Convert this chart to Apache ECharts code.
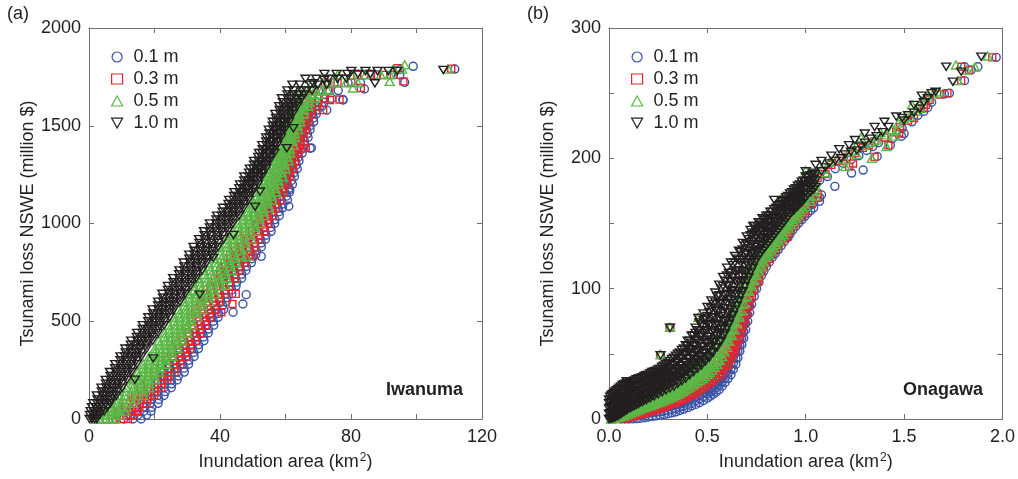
<!DOCTYPE html>
<html><head><meta charset="utf-8">
<script src="https://cdn.jsdelivr.net/npm/echarts@6/dist/echarts.min.js"></script>
<style>html,body{margin:0;padding:0;background:#fff}#c{width:1018px;height:479px}</style>
</head><body><div id="c"></div>
<script>
const seriesNames = ['0.1 m', '0.3 m', '0.5 m', '1.0 m'];
const xTicksA = [0, 40, 80, 120];
const yTicksA = [0, 500, 1000, 1500, 2000];
const xTicksB = [0.0, 0.5, 1.0, 1.5, 2.0];
const yTicksB = [0, 100, 200, 300];

// ---------------- Panel (a) Iwanuma : rows [y, x1, x2, ...] ----------------
const blackA_rows = [
[0,0.2,0.9,1.7,2.4],[20,0.3,1.3,2.2,3.2],[40,0.5,1.6,2.8,3.7,4.6],[60,0.9,2.2,3.3,4.4,5.6],
[80,1.3,2.5,3.9,5.1,6.5],[120,2.4,4.1,5.4,7.1,8.4],[160,3.8,5.3,7.0,8.4,10.1],[200,5.1,6.6,8.3,9.8,11.5],
[240,6.4,8.2,9.7,11.5,13.0],[280,8.0,9.5,11.3,12.8,14.6],[320,9.6,11.0,12.8,14.3,16.0],[360,11.1,12.6,14.4,15.8,17.6],
[400,12.9,14.7,16.1,18.0,19.4],[440,14.7,16.3,18.0,19.4,21.1],[480,16.4,18.2,19.6,21.5,22.9],[520,18.1,19.5,21.3,22.8,24.6],
[560,19.4,21.2,22.6,24.5,25.9],[600,21.1,22.6,24.5,26.0,27.8],[640,22.4,24.4,25.9,27.9,29.4],[680,24.1,25.7,27.6,29.2,31.0],
[720,25.7,27.6,29.2,31.1,32.7],[760,27.6,29.1,31.1,32.6,34.5],[800,28.9,30.9,32.4,34.4,35.9],[840,30.6,32.2,34.1,35.7,37.6],
[880,31.9,34.0,35.7,37.7,39.4],[920,33.6,35.3,37.4,39.0,41.1],[960,35.1,36.8,38.9,40.5,42.4],[1000,36.9,38.9,40.4,42.4,43.9],
[1040,39.1,40.6,42.5,44.0,45.8],[1080,40.9,42.7,44.1,45.8,47.2],[1120,42.8,44.2,45.8,47.1,48.7],[1160,44.4,46.0,47.2,48.7,49.9],
[1200,46.1,47.3,48.9,50.0,51.6],[1240,47.4,48.9,50.1,51.6,52.7],[1280,49.1,50.2,51.6,52.7,54.1],[1320,50.4,51.8,52.8,54.1,55.1],
[1360,51.9,52.9,54.3,55.2,56.6],[1400,52.9,54.2,55.2,56.5,57.4],[1440,54.1,55.0,56.4,57.3,58.6],[1480,54.9,56.3,57.3,58.7,59.7],
[1520,56.1,57.2,58.6,59.7,61.1],[1560,56.9,58.4,59.6,61.1,62.2],[1600,58.1,59.3,60.9,62.0,63.6],[1640,58.9,60.6,61.9,63.6,64.9],
[1680,60.6,62.4,64.9,66.4,68.1],[1710,62.1,64.4,67.6,69.9,72.6],[1740,66.1,69.4,73.1,75.9,78.6],[1765,71.9,75.6,78.9,82.1,85.9],
[1780,80.1,84.4,88.1,91.4,94.1],
[100,2.6,4.0,5.4,6.8],[140,3.9,5.4,7.0,8.5],[180,5.2,6.8,8.4,10.0],[220,6.6,8.2,9.8,11.4],[260,8.0,9.7,11.3,13.0],
[300,9.6,11.2,12.9,14.5],[340,11.2,12.8,14.4,16.0],[380,12.8,14.4,16.1,17.7],[420,14.6,16.2,17.8,19.4],[460,16.4,18.0,19.6,21.2],
[500,18.1,19.7,21.3,22.9],[540,19.6,21.2,22.8,24.4],[580,21.1,22.7,24.4,26.0],[620,22.6,24.3,26.1,27.8],[660,24.1,25.8,27.6,29.3],
[700,25.8,27.5,29.3,31.0],[740,27.5,29.3,31.0,32.7],[780,29.1,30.9,32.6,34.3],[820,30.6,32.4,34.1,35.9],[860,32.2,34.0,35.8,37.6],
[900,33.7,35.6,37.4,39.3],[940,35.3,37.1,39.0,40.8],[980,36.9,38.7,40.5,42.3],[1020,38.9,40.6,42.3,44.0],[1060,40.8,42.4,44.1,45.7],
[1100,42.6,44.1,45.7,47.2],[1140,44.3,45.7,47.2,48.6],[1180,45.9,47.3,48.7,50.1],[1220,47.4,48.8,50.1,51.5],[1260,48.9,50.2,51.5,52.8],
[1300,50.4,51.6,52.8,54.0],[1340,51.7,52.9,54.1,55.3],[1380,53.0,54.1,55.3,56.4],[1420,54.1,55.2,56.3,57.4],[1460,55.1,56.3,57.4,58.6],
[1500,56.1,57.3,58.6,59.8],[1540,57.1,58.4,59.7,61.0],[1580,58.2,59.5,60.9,62.2],[1620,59.2,60.7,62.1,63.6],[1660,60.6,62.3,64.0,65.7]
];
const blackA_extra = [[14.0,201],[19.6,310],[33.8,636],[37.9,824],[44.1,941],[50.7,1086],[52.2,1163],[60.4,1385],[62.4,1487],[87.3,1717],[108.2,1785],[68.5,1717],[71.8,1734]];

const greenA_rows = [
[0,2.1,3.4,5.1,6.4,8.0],[20,3.4,5.1,6.5,8.3,9.7],[40,5.1,6.4,8.1,9.4,11.0],[80,6.4,8.4,9.9,11.9,13.4],
[120,9.1,10.8,12.9,14.5,16.6],[160,11.4,13.4,14.9,16.9,18.4],[200,13.6,15.0,16.9,18.3,20.1],[240,14.9,16.7,18.2,20.0,21.4],
[280,16.6,18.2,20.1,21.7,23.6],[320,18.4,20.4,21.9,23.9,25.4],[360,20.1,21.7,23.6,25.2,27.1],[400,21.4,23.4,24.9,26.9,28.4],
[440,23.1,24.7,26.6,28.2,30.1],[480,24.4,26.4,27.9,29.9,31.4],[520,26.1,27.7,29.6,31.2,33.1],[560,27.4,29.4,31.1,33.1,34.7],
[600,29.1,30.8,32.9,34.5,36.6],[640,30.4,32.6,34.4,36.6,38.4],[680,32.1,33.9,36.1,37.9,40.1],[720,33.4,35.7,37.7,40.0,41.9],
[760,35.1,37.0,39.4,41.3,43.6],[800,36.4,38.7,40.7,43.0,44.9],[840,38.1,40.0,42.4,44.3,46.6],[880,39.9,42.1,43.9,46.1,47.9],
[920,42.1,43.8,45.9,47.5,49.6],[960,43.9,45.9,47.4,49.4,50.9],[1000,45.6,47.1,49.0,50.5,52.4],[1040,46.9,48.7,50.2,52.0,53.4],
[1080,48.6,50.0,51.8,53.1,54.9],[1120,49.9,51.6,52.9,54.6,55.9],[1160,51.1,52.4,54.1,55.4,57.1],[1200,52.4,54.0,55.2,56.7,57.9],
[1240,53.6,54.8,56.4,57.5,59.1],[1280,54.9,56.4,57.4,58.9,59.9],[1320,56.1,57.1,58.5,59.5,60.9],[1360,56.9,58.2,59.2,60.5,61.4],
[1400,58.1,59.0,60.3,61.1,62.4],[1440,58.7,60.0,60.9,62.1,62.9],[1480,59.6,60.5,61.8,62.6,63.9],[1520,60.1,61.4,62.3,63.6,64.5],
[1560,61.1,62.0,63.4,64.3,65.6],[1600,61.9,63.4,64.4,65.9,66.9],[1640,63.1,64.4,66.1,67.4,69.1],[1680,64.9,67.1,68.9,71.1,72.9],
[1720,68.1,71.4,75.1,78.4,82.1],[1760,75.9,80.1,84.4,89.1,91.9],[1790,92.9,95.6],
[60,6.5,8.1,9.8,11.4],[100,8.6,10.4,12.3,14.1],[140,11.1,12.9,14.8,16.6],[180,13.3,15.0,16.7,18.4],[220,15.1,16.7,18.3,19.9],
[260,16.6,18.3,20.0,21.7],[300,18.4,20.1,21.9,23.6],[340,20.1,21.9,23.6,25.4],[380,21.6,23.4,25.1,26.9],[420,23.1,24.9,26.6,28.4],
[460,24.6,26.4,28.1,29.9],[500,26.1,27.9,29.6,31.4],[540,27.6,29.4,31.2,33.0],[580,29.2,31.0,32.9,34.7],[620,30.7,32.7,34.6,36.6],
[660,32.2,34.2,36.3,38.3],[700,33.8,35.8,37.9,39.9],[740,35.3,37.4,39.6,41.7],[780,36.8,38.9,41.1,43.2],[820,38.3,40.4,42.6,44.7],
[860,40.0,42.1,44.2,46.2],[900,42.0,43.9,45.9,47.8],[940,43.9,45.7,47.5,49.3],[980,45.6,47.3,49.1,50.8],[1020,47.1,48.7,50.4,52.1],
[1060,48.6,50.2,51.8,53.4],[1100,50.0,51.6,53.1,54.6],[1140,51.3,52.8,54.3,55.8],[1180,52.5,53.9,55.4,56.8],[1220,53.7,55.1,56.4,57.8],
[1260,54.9,56.2,57.5,58.8],[1300,56.1,57.3,58.6,59.8],[1340,57.1,58.2,59.4,60.6],[1380,58.1,59.2,60.3,61.4],[1420,58.9,60.0,61.1,62.1],
[1460,59.7,60.8,61.8,62.9],[1500,60.4,61.5,62.6,63.7],[1540,61.2,62.3,63.4,64.5],[1580,62.1,63.3,64.5,65.7],[1620,63.2,64.6,65.9,67.3],
[1660,64.9,66.6,68.4,70.1]
];
const greenA_extra = [[13.5,205],[33.0,640],[80.6,1693],[91.8,1727],[96.4,1812],[109.7,1790],[41.6,684],[47.9,831]];

const redA_rows = [
[0,5.1,7.2,9.8,11.9],[20,6.9,9.4,11.4,13.6],[40,9.1,10.9,13.1,14.9],[80,11.4,13.6,15.4,17.6],
[120,14.1,15.9,18.1,19.9],[160,15.9,18.1,19.9,22.1],[200,18.1,19.9,22.1,23.9],[240,19.9,22.1,23.9,26.1],
[280,22.1,23.9,26.1,27.9],[320,23.4,25.6,27.4,29.6],[360,25.1,26.9,29.1,30.9],[400,26.4,28.6,30.4,32.6],
[440,28.1,29.9,32.1,33.9],[480,29.4,31.6,33.4,35.6],[520,31.1,32.9,35.1,36.9],[560,32.4,34.6,36.4,38.6],
[600,34.1,35.9,38.1,39.9],[640,35.4,37.6,39.4,41.6],[680,37.1,38.9,41.1,42.9],[720,38.4,40.6,42.4,44.6],
[760,40.1,41.9,44.1,45.9],[800,41.4,43.6,45.4,47.6],[840,43.1,44.9,47.1,48.9],[880,44.4,46.6,48.4,50.6],
[920,46.1,47.9,50.1,51.9],[960,47.4,49.6,51.4,53.6],[1000,49.1,50.8,53.0,54.7],[1040,50.4,52.4,54.1,56.1],
[1080,52.1,53.6,55.6,57.1],[1120,52.9,54.9,56.5,58.5],[1160,54.6,56.1,57.9,59.4],[1200,55.4,57.3,58.7,60.6],
[1240,56.6,58.0,59.9,61.3],[1280,57.4,59.2,60.5,62.3],[1320,58.6,59.9,61.6,62.9],[1360,59.4,61.0,62.3,63.9],
[1400,60.6,61.8,63.3,64.5],[1440,61.1,62.7,63.9,65.5],[1480,62.1,63.3,64.9,66.1],[1520,62.9,64.4,65.6,67.1],
[1560,64.1,65.2,66.8,67.9],[1600,64.9,66.6,67.9,69.6],[1640,66.1,67.9,70.1,71.9],[1680,68.4,71.1,73.4],
[1720,72.1,75.9,80.1],[1760,81.9,86.1,89.9,93.1],
[60,11.0,13.2,15.4],[100,13.5,15.7,17.9],[140,15.8,18.0,20.2],[180,17.8,20.0,22.2],[220,19.8,22.0,24.2],
[260,21.8,24.0,26.2],[300,23.5,25.7,27.9],[340,25.0,27.2,29.4],[380,26.5,28.7,30.9],[420,28.0,30.2,32.4],
[460,29.5,31.7,33.9],[500,31.0,33.2,35.4],[540,32.5,34.7,36.9],[580,34.0,36.2,38.4],[620,35.5,37.7,39.9],
[660,37.0,39.2,41.4],[700,38.5,40.7,42.9],[740,40.0,42.2,44.4],[780,41.5,43.7,45.9],[820,43.0,45.2,47.4],
[860,44.5,46.7,48.9],[900,46.0,48.2,50.4],[940,47.5,49.7,51.9],[980,49.0,51.2,53.3],[1020,50.5,52.6,54.6],
[1060,52.0,53.9,55.8],[1100,53.2,55.1,57.0],[1140,54.4,56.3,58.2],[1180,55.7,57.5,59.3],[1220,56.7,58.5,60.3],
[1260,57.6,59.4,61.1],[1300,58.6,60.3,61.9],[1340,59.6,61.2,62.8],[1380,60.6,62.1,63.6],[1420,61.4,62.9,64.4],
[1460,62.2,63.7,65.2],[1500,63.1,64.6,66.0],[1540,64.1,65.5,66.9],[1580,65.1,66.6,68.1],[1620,66.2,68.1,70.0]
];
const redA_extra = [[40.4,546],[43.8,588],[44.8,640],[50.0,832],[65.4,1385],[66.2,1387],[71.5,1580],[73.6,1632],[76.5,1634],[83.0,1693],[96.0,1727],[94.4,1795],[110.6,1792]];

const blueA_rows = [
[0,8.1,10.6,13.4,15.9],[20,9.9,12.6,14.9,17.6],[40,12.1,14.2,16.8,18.9],[80,14.4,16.8,18.7,21.1],
[120,17.1,18.9,21.1,22.9],[160,18.9,21.1,22.9,25.1],[200,21.1,22.9,25.1,26.9],[240,22.9,25.1,26.9,29.1],
[280,24.6,26.4,28.6,30.4],[320,25.9,28.1,29.9,32.1],[360,27.6,29.4,31.6,33.4],[400,28.9,31.1,32.9,35.1],
[440,30.6,32.4,34.6,36.4],[480,31.9,34.1,35.9,38.1],[520,33.6,35.4,37.6,39.4],[560,34.9,37.1,38.9,41.1],
[600,36.6,38.2,40.3,41.9],[640,37.9,39.9,41.6,43.6],[680,39.6,41.2,43.3,44.9],[720,40.9,42.9,44.6,46.6],
[760,42.6,44.2,46.3,47.9],[800,43.9,45.9,47.6,49.6],[840,45.6,47.2,49.3,50.9],[880,46.9,48.9,50.6,52.6],
[920,48.6,50.2,52.3,53.9],[960,49.9,51.9,53.6,55.6],[1000,51.6,53.2,55.1,56.7],[1040,52.9,54.8,56.2,58.1],
[1080,54.4,55.8,57.7,59.1],[1120,55.4,57.3,58.7,60.6],[1160,56.6,58.0,59.8,61.2],[1200,57.4,59.1,60.4,62.1],
[1240,58.6,59.9,61.5,62.7],[1280,59.2,60.8,62.0,63.6],[1320,60.3,61.4,63.0,64.1],[1360,60.9,62.4,63.6,65.1],
[1400,62.1,63.2,64.6,65.7],[1440,62.9,64.4,65.4,66.9],[1480,63.9,65.0,66.4,67.5],[1520,64.5,66.0,67.1,68.6],
[1560,65.6,66.7,68.3,69.4],[1600,66.4,68.1,69.4,71.1],[1640,67.9,70.1,71.9,74.1],[1680,70.1,72.9,76.1],
[1720,74.9,79.1,82.9],[1760,84.1,87.9,92.1,94.9],
[60,14.0,16.6,19.2],[100,16.5,18.9,21.3],[140,18.7,21.0,23.3],[180,20.7,23.0,25.3],[220,22.7,25.0,27.3],
[260,24.5,26.8,29.0],[300,26.0,28.3,30.5],[340,27.5,29.8,32.0],[380,29.0,31.3,33.5],[420,30.5,32.8,35.0],
[460,32.0,34.3,36.5],[500,33.5,35.8,38.0],[540,35.0,37.3,39.5],[580,36.5,38.7,40.8],[620,38.0,40.1,42.1],
[660,39.5,41.6,43.6],[700,41.0,43.1,45.1],[740,42.5,44.6,46.6],[780,44.0,46.1,48.1],[820,45.5,47.6,49.6],
[860,47.0,49.1,51.1],[900,48.5,50.6,52.6],[940,50.0,52.1,54.1],[980,51.5,53.5,55.5],[1020,53.0,54.9,56.8],
[1060,54.3,56.2,58.0],[1100,55.6,57.4,59.2],[1140,56.7,58.5,60.3],[1180,57.6,59.4,61.1],[1220,58.6,60.2,61.8],
[1260,59.5,61.0,62.6],[1300,60.3,61.8,63.3],[1340,61.2,62.6,64.0],[1380,62.1,63.5,64.9],[1420,63.1,64.4,65.8],
[1460,64.0,65.3,66.7],[1500,64.8,66.2,67.5],[1540,65.6,67.0,68.5],[1580,66.6,68.1,69.7],[1620,68.0,69.9,71.8]
];
const blueA_extra = [[44.0,546],[47.0,588],[48.0,636],[52.6,832],[61.0,1088],[61.3,1173],[67.5,1385],[67.9,1387],[65.5,1495],[72.6,1580],[77.6,1632],[77.5,1634],[84.1,1688],[96.4,1722],[94.9,1787],[99.0,1804],[111.7,1790]];

// ---------------- Panel (b) Onagawa : columns [x, y1, y2, ...] ----------------
const blackB_cols = [
[0.000,0,4,8,12,15],[0.012,0.5,5,10,15,18],[0.025,1,5.5,10,15,20],[0.040,2,7,12,17,22],
[0.055,3.5,8,13,18,24],[0.070,5,10,15,20,26],[0.085,6.5,11,16,21,27],[0.100,8,12.5,17,22.5,28],
[0.120,9.5,14,19,24,29],[0.140,11,15.5,20,25,30.5],[0.160,13,17.5,22,27,31.5],[0.180,14.5,19,23.5,28,33],
[0.200,16,20.5,25,29.5,34],[0.220,18,22.5,27,31.5,36],[0.240,20,24.5,29,33,37],[0.260,22,26.5,31,35,38.5],
[0.280,24,28.5,33,37,41],[0.300,26,30.5,35,39,43],[0.320,28,32,36.5,41,46],[0.340,30,34,38.5,43,48.5],
[0.360,32,36.5,41,46,51],[0.380,35,39,44,49,54],[0.400,37,41.5,46.5,51.5,56,60],[0.420,39,43.5,48.5,53.5,58.5,64],
[0.440,41,46,51,56,61,66,70],[0.460,43,48,53,58,63,68,74],[0.480,45.5,50.5,55.5,60.5,66,71,76,81],
[0.500,48,53,58,63,68,73,79,86],[0.520,51,56,61,67,72,78,85,91],[0.540,55,60,66,72,78,84,90,97],
[0.560,59,65,71,77,83,89,95,103],[0.580,64,70,76,82,88,95,102,109],[0.600,70,76,82,89,96,103,110,116],
[0.620,77,84,91,98,105,112,120],[0.640,84,91,98,106,113,120,125],[0.660,91,98,106,114,122,129],
[0.680,98,106,114,122,130,135],[0.700,106,113,120,127,134,140],[0.720,113,120,127,134,141,145],
[0.740,120,126,132,138,143,148],[0.760,125,130,136,142,147,151],[0.780,129,134,139,144,149,154],
[0.800,133,138,143,148,153,156],[0.820,137,142,147,152,156,159],[0.840,141,146,151,156,161],
[0.860,145,150,155,160,164],[0.880,149,154,159,163,167],[0.900,153,158,162,166,170],
[0.920,157,161,165,169,173],[0.940,160,164,168,172,176],[0.960,163,167,171,175,179],
[0.980,166,170,174,178,182],[1.000,170,174,178,182,186],[1.025,174,178,182,187],[1.050,178,183,188],
[0.006,0.3,4.5,9,13,17],[0.018,0.8,5,9.5,14,19],[0.032,1.5,6,11,16,21],[0.047,2.5,7.5,12.5,17.5,23],
[0.062,4,9,14,19.5,25],[0.077,5.5,10.5,15.5,21,26.5],[0.092,7,12,17,22,27.5],[0.11,8.5,13.5,18.5,23.5,28.5],
[0.13,10,14.5,19.5,24.5,29.5],[0.15,11.5,16,21,26,31],[0.17,13,17.5,22,27,32],[0.19,14.5,19,24,29,33.5],
[0.21,16,20.5,25.5,30.5,35],[0.23,17.5,22,27,32,36.5],[0.25,19,23.5,28.5,33.5,38],[0.27,20.5,25.5,30.5,35.5,40],
[0.29,22,27,32,37,42],[0.31,23.5,28.5,33.5,39,44.5],[0.33,25,30.5,36,41.5,47],[0.35,27,32.5,38,44,50],
[0.37,29,35,41,47,53],[0.39,31,37,43,50,56.5],[0.41,33.5,39.5,46,53,60],[0.43,36,42.5,49,56.5,64],
[0.45,38.5,45,52,60,68],[0.47,41,48,55.5,64,72.5],[0.49,44,51,59,68,77],[0.51,47,55,63,72,82],
[0.53,51,59,68,78,88],[0.55,55,64,73,83,94],[0.57,60,69,79,89,100],[0.59,66,75,85,95,106],
[0.61,73,82,92,102,112],[0.63,80,89,99,109,118],[0.65,87,96,105,114,123],[0.67,95,103,111,120,128],
[0.69,102,110,118,126,133],[0.71,109,117,124,131,138],[0.73,116,123,129,136,142],[0.75,122,128,134,140,146],
[0.77,127,133,139,145,150],[0.79,131,137,142,148,153],[0.81,135,141,146,151,156],[0.83,139,144,149,154,159],
[0.85,143,148,153,158,162],[0.87,147,152,157,161,165],[0.89,151,155,160,164,168],[0.91,155,159,163,167,171],
[0.93,159,162,166,170,174],[0.95,162,166,170,174,177],[0.97,165,169,173,177,180],[0.99,168,172,176,180,183],
[1.01,172,176,180,183,186],[1.04,176,180,184,189]
];
const blackB_extra = [[0.09,29],[0.262,49],[0.31,70],[0.454,77.5],[0.733,148],[0.84,168],[1.0,190],
[1.08,190],[1.10,193],[1.05,195],[1.12,196],[1.15,198],[1.08,198],[1.18,200],[1.13,202],[1.20,203],[1.23,205],
[1.17,207],[1.26,206],[1.22,210],[1.28,209],[1.30,212],[1.25,214],[1.33,215],[1.36,217],[1.30,219],[1.39,220],
[1.35,224],[1.42,224],[1.40,228],[1.46,232],[1.49,231],[1.52,233],[1.55,235],[1.50,229],[1.58,238],[1.55,241],
[1.60,243],[1.62,246],[1.59,248],[1.64,250],[1.66,251],[1.714,270.3],[1.748,258.8],[1.79,266.5],[1.892,278]];

const greenB_cols = [
[0.010,0,3],[0.030,0.5,3,5],[0.050,1.5,4,6.5],[0.075,2.5,5.5,8.5],[0.100,4,7,10.5],[0.125,5.5,8.5,12.5],
[0.150,7,10,13,15],[0.175,8.5,11.5,14.5,17],[0.200,10,13,16,19],[0.225,11,14.5,18,21.5],[0.250,12.5,16,19.5,23.5],
[0.275,14,17.5,21,25.5],[0.300,15.5,19,23,27,29],[0.325,17,21,25,29,31],[0.350,19,23,27,31,34],
[0.375,21,25,29,33,37],[0.400,23.5,27.5,31.5,35.5,40],[0.425,26,30,34,38,42],[0.450,28.5,32.5,36.5,40.5,45],
[0.475,31,35,39,43,48],[0.500,34,38,42,46,51],[0.525,37.5,41.5,46,50,55],[0.550,42,46,50.5,55,60],
[0.575,48,53,58,63,67],[0.600,55,60,65,70,74],[0.625,64,69,74,79,82],[0.650,73,78,83,88,91],
[0.675,83,88,93,98,101],[0.700,94,99,104,109],[0.725,102,107,112,117],[0.750,110,115,120,125],
[0.775,117,122,127,131],[0.800,124,128,132,136],[0.825,129,133,137,141],[0.850,134,138,142,146],
[0.875,139,143,147,151],[0.900,144,148,152,156],[0.925,149,153,157,161],[0.950,154,158,162,165],
[0.975,159,163,167,170],[1.000,163,167,171,174],[1.025,167,171,175,178],[1.050,171,175,179,182],
[0.02,0.3,3,5.5],[0.04,1,3.5,6],[0.062,2,5,8],[0.087,3.2,6.3,9.5],[0.112,4.7,7.7,11],[0.137,6.2,9.2,12.2,14],
[0.162,7.7,10.7,13.7,16],[0.187,9.2,12.2,15.2,18],[0.212,10.5,13.7,17,20],[0.237,11.8,15.2,18.7,22],
[0.262,13.2,16.7,20.2,24],[0.287,14.7,18.2,22,25.5],[0.312,16.2,20,24,27.5],[0.337,18,22,26,30],
[0.362,20,24,28,32],[0.387,22.2,26.2,30.2,34.5],[0.412,24.7,28.7,32.7,37],[0.437,27.2,31.2,35.2,39.5],
[0.462,29.7,33.7,37.7,42],[0.487,32.5,36.5,40.5,45],[0.512,35.7,39.7,44,48.5],[0.537,39.7,43.7,48,53],
[0.562,45,50,55,60],[0.587,51.5,56.5,61.5,67],[0.612,59.5,64.5,69.5,75],[0.637,68.5,73.5,78.5,84],
[0.662,78,83,88,93],[0.687,88.5,93.5,98.5,103],[0.712,98,103,108,112],[0.737,106,111,116,120],
[0.762,113.5,118.5,123.5],[0.787,120.5,125,129],[0.812,126.5,130.5,134],[0.837,131.5,135.5,139],
[0.862,136.5,140.5,144],[0.887,141.5,145.5,149],[0.912,146.5,150.5,154],[0.937,151.5,155.5,159],
[0.962,156.5,160.5,164],[0.987,161,165,168]
];
const greenB_extra = [[0.262,49.5],[0.31,70.5],[0.454,78],[0.88,170],[0.93,175],[0.96,180],[0.99,184],[1.0,190.5],
[1.05,187],[1.08,192],[1.10,189],[1.12,197],[1.16,200],[1.20,199],[1.20,193.6],[1.22,205],[1.26,203],[1.24,209],
[1.30,210],[1.33,212],[1.336,200],[1.28,216],[1.36,214],[1.38,220],[1.41,218],[1.41,209],[1.44,222],[1.46,221],
[1.47,227],[1.45,217],[1.50,230],[1.53,232],[1.56,236],[1.583,238.4],[1.54,241],[1.59,244],[1.62,247],[1.65,250],
[1.68,251],[1.763,271.6],[1.773,259.6],[1.816,267.8],[1.86,270],[1.925,278.5]];

const redB_cols = [
[0.030,0,1.5],[0.060,0.3,2],[0.090,0.8,3],[0.120,2,4.5],[0.150,3.5,6,8],[0.180,4.5,7,9.5],[0.210,5.8,8.3,11],
[0.240,7.2,9.7,12.5],[0.270,8.8,11.3,14],[0.300,10.5,13,16],[0.330,12.2,15,18],[0.360,14,17,20.5],
[0.390,16,19.5,23],[0.420,18.5,22,25.5],[0.450,21,24.5,28],[0.480,24,27.5,31],[0.510,27.5,31,35],
[0.540,31,35,39],[0.570,34.5,39,43,47],[0.600,41,45.5,50,55],[0.620,46,51,56,61],[0.640,53,58,63,68],
[0.660,61,66,71,76],[0.680,71,76,81,86],[0.700,81,86,91,95],[0.725,94,98,102],[0.750,105,109,112],
[0.775,113,117,120],[0.800,120,124,126],[0.825,126,129,131],[0.850,131,134,136],[0.875,136,139,141],
[0.900,141,144,146],[0.925,146,149,151],[0.950,151,154,156],[0.975,156,159,161],[1.000,160,163,165],
[1.030,165,168],[1.060,170,173],
[0.045,0.1,1.8],[0.075,0.5,2.5],[0.105,1.4,3.7],[0.135,2.7,5.2,7],[0.165,4,6.5,8.8],[0.195,5.1,7.6,10.2],
[0.225,6.5,9,11.7],[0.255,8,10.5,13.2],[0.285,9.6,12.1,15],[0.315,11.3,14,17],[0.345,13.1,16,19.2],
[0.375,15,18.2,21.7],[0.405,17.2,20.7,24.2],[0.435,19.7,23.2,26.7],[0.465,22.5,26,29.5],[0.495,25.7,29.2,33],
[0.525,29.2,33,37],[0.555,32.7,37,41,45],[0.585,37.7,42,46.5,51],[0.61,43.5,48,52.5,58],[0.63,49.5,54.5,59.5,64.5],
[0.65,57,62,67,72],[0.67,66,71,76,81],[0.69,76,81,86,90.5],[0.712,87.5,92,96.5],[0.737,99.5,103.5,107],
[0.762,109,113,116],[0.787,116.5,120.5,123],[0.812,123,126.5,128.5],[0.837,128.5,131.5,133.5],
[0.862,133.5,136.5,138.5],[0.887,138.5,141.5,143.5],[0.912,143.5,146.5,148.5],[0.937,148.5,151.5,153.5],
[0.962,153.5,156.5,158.5],[0.987,158,161,163]
];
const redB_extra = [[0.26,49],[0.31,70],[0.46,77.5],[0.76,106],[0.91,140],[0.92,167],[1.02,183],[1.06,185],
[1.10,188],[1.13,195],[1.17,198],[1.21,201],[1.22,193.6],[1.24,196],[1.25,204],[1.29,208],[1.32,210],[1.35,201],
[1.35,213],[1.40,216],[1.42,210],[1.46,220],[1.475,219],[1.48,224],[1.52,229],[1.55,231],[1.58,238],[1.60,238.4],
[1.61,241],[1.63,245],[1.68,249],[1.72,250],[1.79,259.6],[1.79,270.3],[1.83,267.8],[1.948,277.5]];

const blueB_cols = [
[0.060,0,1.5],[0.100,0,1.5],[0.140,0.3,2.5],[0.180,1,3.5],[0.220,2,4.8],[0.260,2.8,5.5,7.5],[0.300,4,6.5,9.5],
[0.340,5.5,8,11],[0.380,7.5,10,13],[0.420,10,12.5,15.5,18],[0.460,12.5,15.5,18.5,21],[0.500,16,19,22,25],
[0.530,19,22,25,28.5],[0.560,22.5,26,29.5,32.5],[0.590,28,31.5,35,38],[0.620,34,38,42,46],[0.645,42,46.5,51,55],
[0.665,52,56.5,61,63],[0.685,62,67,72,75],[0.705,75,80,85,88],[0.725,88,93,97],[0.750,100,104,107],
[0.775,110,114],[0.800,117,121],[0.830,124,128],[0.860,130,134],[0.890,136,140],[0.920,142,146],
[0.950,148,152],[0.980,153,157],[1.010,158,162],[1.040,162,166],[1.070,167,170],
[0.08,0,1.5],[0.12,0.1,2],[0.16,0.6,3],[0.2,1.5,4.2],[0.24,2.4,5.2,7],[0.28,3.4,6,8.5],[0.32,4.7,7.3,10.2],
[0.36,6.5,9,12],[0.40,8.7,11.2,14.2,17],[0.44,11.2,14,17,19.5],[0.48,14.2,17.2,20.2,23],[0.515,17.5,20.5,23.5,27],
[0.545,20.7,24,27.2,30.5],[0.575,25.2,28.7,32.2,35.5],[0.605,31,35,39,42.5],[0.632,38,42.5,47,51],
[0.655,47,51.5,56,59.5],[0.675,57,62,66.5,69.5],[0.695,68.5,73.5,78.5,82],[0.715,81.5,86.5,91],
[0.738,94,98.5,102],[0.762,105,109,112],[0.787,113.5,117.5],[0.815,120.5,124.5],[0.845,127,131],
[0.875,133,137],[0.905,139,143],[0.935,145,149],[0.965,150.5,154.5],[0.995,155.5,159.5],[1.025,160,164]
];
const blueB_extra = [[0.262,49],[0.31,70],[0.902,166.7],[0.911,140],[0.937,155.5],[1.0,166],[1.03,180],[1.07,183],
[1.08,172],[1.11,186],[1.148,178.5],[1.15,192],[1.19,196],[1.233,188.7],[1.23,199],[1.27,202],[1.292,191],
[1.31,206],[1.34,209],[1.363,201.5],[1.37,212],[1.43,210],[1.44,215],[1.487,217],[1.49,223],[1.50,219],
[1.54,228],[1.57,233],[1.58,240],[1.60,236],[1.62,239],[1.64,243],[1.705,249.4],[1.73,250],[1.807,259.6],
[1.807,270.3],[1.841,267.8],[1.875,270.3],[1.968,277.5]];

// ---------------- build ----------------
function fromRows(rows){const o=[];rows.forEach(r=>{for(let i=1;i<r.length;i++)o.push([r[i],r[0]]);});return o;}
function fromCols(cols){const o=[];cols.forEach(c=>{for(let i=1;i<c.length;i++)o.push([c[0],c[i]]);});return o;}

const COL = {blue:'#3953a4', red:'#e3262d', green:'#5ab947', black:'#231f20'};
const TXT = '#231f20', AX = '#6d6e71';
const FONT = '"Liberation Sans", Arial, Helvetica, sans-serif';
const DOWN = 'path://M0,0L10,0L5,9Z';
const styleDefs = [
  {name:seriesNames[0], symbol:'circle', size:8, color:COL.blue},
  {name:seriesNames[1], symbol:'rect', size:7, color:COL.red},
  {name:seriesNames[2], symbol:'triangle', size:[9,8], color:COL.green},
  {name:seriesNames[3], symbol:DOWN, size:[9,8], color:COL.black}
];
const dataA = [fromRows(blueA_rows).concat(blueA_extra), fromRows(redA_rows).concat(redA_extra),
               fromRows(greenA_rows).concat(greenA_extra), fromRows(blackA_rows).concat(blackA_extra)];
const dataB = [fromCols(blueB_cols).concat(blueB_extra), fromCols(redB_cols).concat(redB_extra),
               fromCols(greenB_cols).concat(greenB_extra), fromCols(blackB_cols).concat(blackB_extra)];

function mkSeries(idx, data, g){
  const s = styleDefs[idx];
  return {type:'scatter', name:s.name, xAxisIndex:g*2, yAxisIndex:g*2, data:data,
    symbol:s.symbol, symbolSize:s.size, symbolKeepAspect:true, silent:true, large:false,
    itemStyle:{color:'rgba(255,255,255,0)', borderColor:s.color, borderWidth:1.4, opacity:1}};
}
const series = [];
for (let i=0;i<4;i++) series.push(mkSeries(i, dataA[i], 0));
for (let i=0;i<4;i++) series.push(mkSeries(i, dataB[i], 1));

const labelStyle = {color:TXT, fontSize:18, fontFamily:FONT};
function xAxes(g, min, max, interval, labels, fmt){
  return [
    {type:'value', gridIndex:g, min:min, max:max, interval:interval, position:'bottom',
     axisLine:{show:true, onZero:false, lineStyle:{color:AX, width:1}},
     axisTick:{show:true, inside:true, length:5, lineStyle:{color:AX}},
     splitLine:{show:false},
     axisLabel:Object.assign({margin:9, formatter:function(v){return labels.some(t=>Math.abs(t-v)<1e-9)?fmt(v):'';}}, labelStyle),
     name:'{t|Inundation area (km}{s|2}{t|)}', nameLocation:'middle', nameGap:33,
     nameTextStyle:{rich:{t:{fontSize:18, color:TXT, fontFamily:FONT}, s:{fontSize:12, color:TXT, fontFamily:FONT, padding:[0,0,8,1]}}}},
    {type:'value', gridIndex:g, min:min, max:max, interval:interval, position:'top',
     axisLine:{show:true, onZero:false, lineStyle:{color:AX, width:1}},
     axisTick:{show:true, inside:true, length:5, lineStyle:{color:AX}},
     axisLabel:{show:false}, splitLine:{show:false}}
  ];
}
function yAxes(g, min, max, interval, labels, gap){
  return [
    {type:'value', gridIndex:g, min:min, max:max, interval:interval, position:'left',
     axisLine:{show:true, onZero:false, lineStyle:{color:AX, width:1}},
     axisTick:{show:true, inside:true, length:5, lineStyle:{color:AX}},
     splitLine:{show:false},
     axisLabel:Object.assign({margin:8, formatter:function(v){return labels.some(t=>Math.abs(t-v)<1e-9)?String(v):'';}}, labelStyle),
     name:'Tsunami loss NSWE (million $)', nameLocation:'middle', nameGap:gap, nameRotate:90,
     nameTextStyle:{fontSize:18, color:TXT, fontFamily:FONT}},
    {type:'value', gridIndex:g, min:min, max:max, interval:interval, position:'right',
     axisLine:{show:true, onZero:false, lineStyle:{color:AX, width:1}},
     axisTick:{show:true, inside:true, length:5, lineStyle:{color:AX}},
     axisLabel:{show:false}, splitLine:{show:false}}
  ];
}

const option = {
  animation:false,
  backgroundColor:'#ffffff',
  textStyle:{fontFamily:FONT},
  grid:[{left:89, top:28, width:393, height:391}, {left:609, top:28, width:394, height:391}],
  xAxis:[].concat(xAxes(0,0,120,20,xTicksA,v=>String(v)), xAxes(1,0,2,0.5,xTicksB,v=>v.toFixed(1))),
  yAxis:[].concat(yAxes(0,0,2000,500,yTicksA,52), yAxes(1,0,300,50,yTicksB,52)),
  legend:[
    {left:106, top:43, orient:'vertical', itemWidth:11, itemHeight:10, itemGap:4, selectedMode:false,
     itemStyle:{borderWidth:1.2},
     textStyle:{fontSize:18, color:TXT, fontFamily:FONT, padding:[0,0,0,6]}, data:seriesNames},
    {left:626, top:43, orient:'vertical', itemWidth:11, itemHeight:10, itemGap:4, selectedMode:false,
     itemStyle:{borderWidth:1.2},
     textStyle:{fontSize:18, color:TXT, fontFamily:FONT, padding:[0,0,0,6]}, data:seriesNames}
  ],
  graphic:[
    {type:'text', left:7, top:5, style:{text:'(a)', fontSize:18, fill:TXT, fontFamily:FONT}},
    {type:'text', left:527, top:5, style:{text:'(b)', fontSize:18, fill:TXT, fontFamily:FONT}},
    {type:'text', right:1018-463, top:381, style:{text:'Iwanuma', fontSize:18, fontWeight:'bold', fill:TXT, fontFamily:FONT}},
    {type:'text', right:1018-983, top:381, style:{text:'Onagawa', fontSize:18, fontWeight:'bold', fill:TXT, fontFamily:FONT}}
  ],
  series:series
};
const chart = echarts.init(document.getElementById('c'), null, {renderer:'canvas'});
chart.setOption(option);
</script></body></html>
